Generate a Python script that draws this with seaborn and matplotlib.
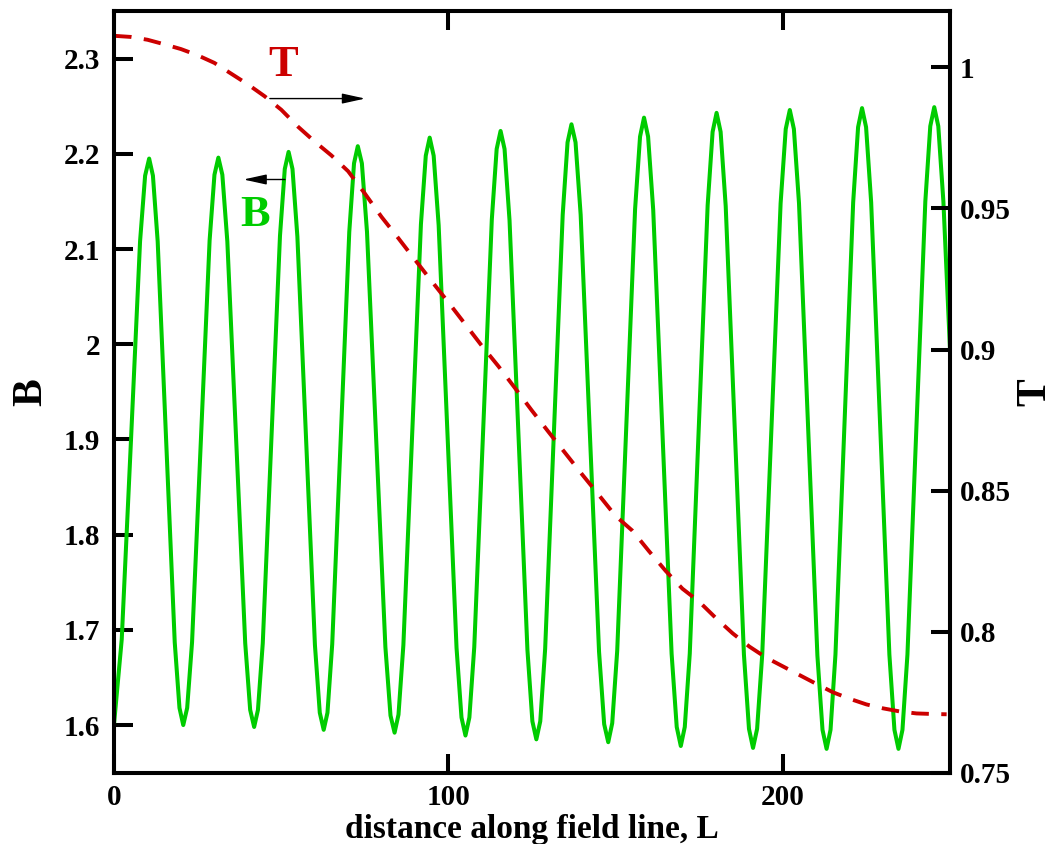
import matplotlib
matplotlib.use("Agg")
import matplotlib.pyplot as plt
import seaborn as sns

# B along the field line (left axis)
dist_b = [
    0.00, 2.30, 5.05, 7.78, 9.29, 10.50,
    11.63, 13.05, 15.60, 18.15, 19.57, 20.70,
    21.87, 23.33, 25.95, 28.58, 30.03, 31.20,
    32.39, 33.88, 36.55, 39.23, 40.71, 41.90,
    43.04, 44.48, 47.05, 49.63, 51.06, 52.20,
    53.37, 54.83, 57.45, 60.08, 61.53, 62.70,
    63.83, 65.25, 67.80, 70.35, 71.77, 72.90,
    74.12, 75.65, 78.40, 81.15, 82.68, 83.90,
    85.07, 86.53, 89.15, 91.78, 93.23, 94.40,
    95.59, 97.08, 99.75, 102.43, 103.91, 105.10,
    106.27, 107.73, 110.35, 112.98, 114.43, 115.60,
    116.79, 118.28, 120.95, 123.63, 125.11, 126.30,
    127.47, 128.93, 131.55, 134.18, 135.63, 136.80,
    138.02, 139.55, 142.30, 145.05, 146.58, 147.80,
    148.99, 150.48, 153.15, 155.83, 157.31, 158.50,
    159.72, 161.25, 164.00, 166.75, 168.28, 169.50,
    170.69, 172.18, 174.85, 177.53, 179.01, 180.20,
    181.41, 182.93, 185.65, 188.38, 189.89, 191.10,
    192.32, 193.85, 196.60, 199.35, 200.88, 202.10,
    203.32, 204.85, 207.60, 210.35, 211.88, 213.10,
    214.28, 215.75, 218.40, 221.05, 222.52, 223.70,
    224.91, 226.43, 229.15, 231.88, 233.39, 234.60,
    235.79, 237.28, 239.95, 242.63, 244.11, 245.30,
    246.51, 248.03, 250.00,
]
field_b = [
    1.601, 1.690, 1.898, 2.108, 2.177, 2.195,
    2.177, 2.108, 1.898, 1.687, 1.618, 1.600,
    1.618, 1.687, 1.898, 2.109, 2.178, 2.196,
    2.178, 2.108, 1.897, 1.686, 1.616, 1.598,
    1.616, 1.686, 1.900, 2.114, 2.184, 2.202,
    2.184, 2.113, 1.899, 1.684, 1.613, 1.595,
    1.613, 1.685, 1.902, 2.118, 2.190, 2.208,
    2.190, 2.118, 1.900, 1.682, 1.610, 1.592,
    1.611, 1.684, 1.905, 2.126, 2.198, 2.217,
    2.198, 2.125, 1.903, 1.681, 1.608, 1.589,
    1.608, 1.682, 1.907, 2.131, 2.205, 2.224,
    2.205, 2.130, 1.905, 1.679, 1.604, 1.585,
    1.604, 1.680, 1.908, 2.136, 2.212, 2.231,
    2.212, 2.136, 1.907, 1.677, 1.601, 1.582,
    1.602, 1.678, 1.910, 2.142, 2.218, 2.238,
    2.218, 2.141, 1.908, 1.675, 1.598, 1.578,
    1.598, 1.675, 1.911, 2.146, 2.223, 2.243,
    2.223, 2.145, 1.910, 1.674, 1.596, 1.576,
    1.596, 1.674, 1.911, 2.148, 2.226, 2.246,
    2.226, 2.148, 1.911, 1.673, 1.595, 1.575,
    1.595, 1.674, 1.912, 2.149, 2.228, 2.248,
    2.228, 2.149, 1.912, 1.674, 1.595, 1.575,
    1.595, 1.674, 1.912, 2.150, 2.229, 2.249,
    2.229, 2.150, 1.995,
]

# T along the field line (right axis)
dist_t = [0, 5, 10, 15, 20, 25, 30, 35, 40, 45, 50, 55, 60, 65, 70, 75, 80, 85,
          90, 95, 100, 105, 110, 115, 120, 125, 130, 135, 140, 145, 150, 155,
          160, 165, 170, 175, 180, 185, 190, 195, 200, 205, 210, 215, 220, 225,
          230, 235, 240, 245, 249]
temp_t = [1.0112, 1.0108, 1.0098, 1.0082, 1.0065, 1.0043, 1.0016, 0.9978,
          0.9940, 0.9898, 0.9850, 0.9790, 0.9737, 0.9688, 0.9632, 0.9553,
          0.9470, 0.9395, 0.9318, 0.9242, 0.9167, 0.9090, 0.9013, 0.8940,
          0.8862, 0.8783, 0.8707, 0.8632, 0.8557, 0.8484, 0.8410, 0.8358,
          0.8285, 0.8215, 0.8152, 0.8106, 0.8048, 0.7994, 0.7947, 0.7908,
          0.7877, 0.7846, 0.7815, 0.7785, 0.7762, 0.7742, 0.7728, 0.7717,
          0.7710, 0.7708, 0.7707]

x_ticks = [0, 100, 200]
b_ticks = [1.6, 1.7, 1.8, 1.9, 2.0, 2.1, 2.2, 2.3]
b_tick_labels = ["1.6", "1.7", "1.8", "1.9", "2", "2.1", "2.2", "2.3"]
t_ticks = [0.75, 0.8, 0.85, 0.9, 0.95, 1.0]
t_tick_labels = ["0.75", "0.8", "0.85", "0.9", "0.95", "1"]

GREEN = "#00cc00"
RED = "#cc0000"

sns.set_style("ticks")
plt.rcParams["font.family"] = ["Liberation Serif", "DejaVu Serif"]
plt.rcParams["font.weight"] = "bold"
for key in ("text.color", "axes.labelcolor", "xtick.color", "ytick.color"):
    plt.rcParams[key] = "black"

fig = plt.figure(figsize=(10.54, 8.44), dpi=100)
ax = fig.add_axes([0.1082, 0.0845, 0.7931, 0.9025])
ax2 = ax.twinx()

sns.lineplot(x=dist_b, y=field_b, ax=ax, color=GREEN, linewidth=2.9,
             estimator=None, sort=False)
sns.lineplot(x=dist_t, y=temp_t, ax=ax2, color=RED, linewidth=2.8,
             estimator=None, sort=False)
ax2.lines[0].set_dashes([4.5, 3.2])

ax.set_xlim(0, 250)
ax.set_ylim(1.55, 2.35)
ax2.set_ylim(0.75, 1.02)

ax.set_xticks(x_ticks)
ax.set_xticklabels([str(t) for t in x_ticks])
ax.set_yticks(b_ticks)
ax.set_yticklabels(b_tick_labels)
ax2.set_yticks(t_ticks)
ax2.set_yticklabels(t_tick_labels)

for a in (ax, ax2):
    for spine in a.spines.values():
        spine.set_linewidth(2.9)
        spine.set_color("black")
ax.tick_params(axis="both", direction="in", length=14, width=2.9,
               labelsize=21, pad=10)
ax.tick_params(axis="x", top=True, pad=8)
ax2.tick_params(axis="y", direction="in", length=14, width=2.9,
                labelsize=21, pad=7)

ax.set_xlabel("distance along field line, L", fontsize=24, fontweight="bold",
              labelpad=2)
ax.set_ylabel("B", fontsize=30, fontweight="bold", labelpad=10)
ax2.set_ylabel("T", fontsize=30, fontweight="bold", labelpad=4)

# pointer arrows and curve tags
ax.annotate("", xy=(75.1, 2.258), xytext=(46.6, 2.258),
            arrowprops=dict(arrowstyle="-|>,head_length=1.0,head_width=0.22",
                            color="black", lw=1.0, mutation_scale=14,
                            shrinkA=0, shrinkB=0))
ax.annotate("", xy=(38.7, 2.173), xytext=(51.1, 2.173),
            arrowprops=dict(arrowstyle="-|>,head_length=1.0,head_width=0.22",
                            color="black", lw=1.0, mutation_scale=14,
                            shrinkA=0, shrinkB=0))
ax.text(50.6, 2.293, "T", color=RED, fontsize=32, fontweight="bold",
        ha="center", va="center")
ax.text(42.2, 2.136, "B", color=GREEN, fontsize=32, fontweight="bold",
        ha="center", va="center")

fig.savefig("out.png", dpi=100)
